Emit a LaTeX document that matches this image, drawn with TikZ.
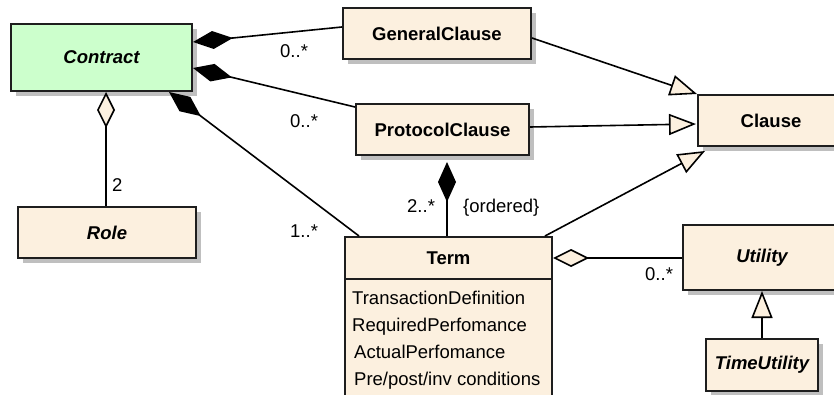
\documentclass[tikz,border=0pt]{standalone}
\usepackage{fontspec}
\setmainfont{Liberation Sans}
\usetikzlibrary{arrows.meta,shadows,calc}
\definecolor{beige}{RGB}{252,240,223}
\definecolor{mint}{RGB}{204,255,204}
\definecolor{edge}{RGB}{30,30,30}
\begin{document}
\begin{tikzpicture}[x=1pt,y=-1pt,
  font=\fontsize{18.5}{22}\selectfont,
  cls/.style={draw=edge, line width=2pt, fill=beige, rectangle, inner sep=0pt, anchor=north west,
    drop shadow={shadow xshift=5pt, shadow yshift=-5pt, fill=black!25, opacity=1}},
  clsn/.style={draw=edge, line width=2pt, fill=beige, rectangle, inner sep=0pt, anchor=north west},
  conn/.style={line width=1.6pt, draw=black},
  comp/.style={{Diamond[length=40pt,width=18pt]}-},
  aggr/.style={{Diamond[length=36pt,width=18pt,fill=beige]}-},
  gen/.style={-{Triangle[length=27pt,width=21pt,fill=beige]}},
  lbl/.style={anchor=base west, inner sep=0pt}
]
\useasboundingbox (0,0) rectangle (834,395);
\clip (0,0) rectangle (834,395);

% classes
\node[cls, fill=mint, minimum width=181pt, minimum height=67pt] (contract) at (10,23) {\bfseries\itshape Contract};
\node[cls, minimum width=188pt, minimum height=51pt] (gc) at (342,7) {\bfseries GeneralClause};
\node[cls, minimum width=173pt, minimum height=51pt] (pc) at (355,103) {\bfseries ProtocolClause};
\node[cls, minimum width=146pt, minimum height=51pt] (clause) at (697,94) {\bfseries Clause};
\node[cls, minimum width=178pt, minimum height=51pt] (role) at (17,206) {\bfseries\itshape Role};
\node[cls, minimum width=158pt, minimum height=65pt] (utility) at (682,224) {\bfseries\itshape Utility};
\node[cls, minimum width=112pt, minimum height=52pt] (tu) at (705,338) {\bfseries\itshape TimeUtility};
\node[clsn, minimum width=207pt, minimum height=130pt] (terma) at (344,278) {};
\node[clsn, minimum width=207pt, minimum height=42pt] (termh) at (344,236) {\bfseries Term};

% attributes
\node[lbl] (a1) at (352,304) {TransactionDefinition};
\node[lbl] (a2) at (352,331) {RequiredPerfomance};
\node[lbl] (a3) at (354,358) {ActualPerfomance};
\node[lbl] (a4) at (354,385) {Pre/post/inv conditions};

% connectors
\draw[conn, comp] ($(contract.north east)+(0,19)$) -- ($(gc.north west)+(0,20)$);
\draw[conn, comp] ($(contract.north east)+(0,45)$) -- ($(pc.north west)+(0,4)$);
\draw[conn, comp] ($(contract.south east)+(-24,0)$) -- ($(termh.north west)+(15,0)$);
\coordinate (cr) at ($(contract.south)+(4.5,0)$);
\draw[conn, aggr] (cr) -- (cr |- role.north);
\draw[conn, gen] ($(gc.east)+(0,4.5)$) -- (clause.north west);
\draw[conn, gen] ($(pc.east)+(0,-2.5)$) -- ($(clause.west)+(-1,3.5)$);
\draw[conn, gen] ($(termh.north east)+(-8,0)$) -- ($(clause.south west)+(8,4)$);
\coordinate (pt) at ($(pc.south)+(4.5,6)$);
\draw[conn, comp] (pt) -- (pt |- termh.north);
\draw[conn, aggr] (termh.east) -- (termh.east -| utility.west);
\draw[conn, gen] (tu.north) -- (utility.south);

% multiplicities
\node[lbl] (m1) at (280,58) {0..*};
\node[lbl] (m2) at (290,128) {0..*};
\node[lbl] (m3) at (112,192) {2};
\node[lbl] (m4) at (290,237) {1..*};
\node[lbl] (m5) at (407,212) {2..*};
\node[lbl] (m6) at (463,212) {\{ordered\}};
\node[lbl] (m7) at (645,280) {0..*};
\end{tikzpicture}
\end{document}
